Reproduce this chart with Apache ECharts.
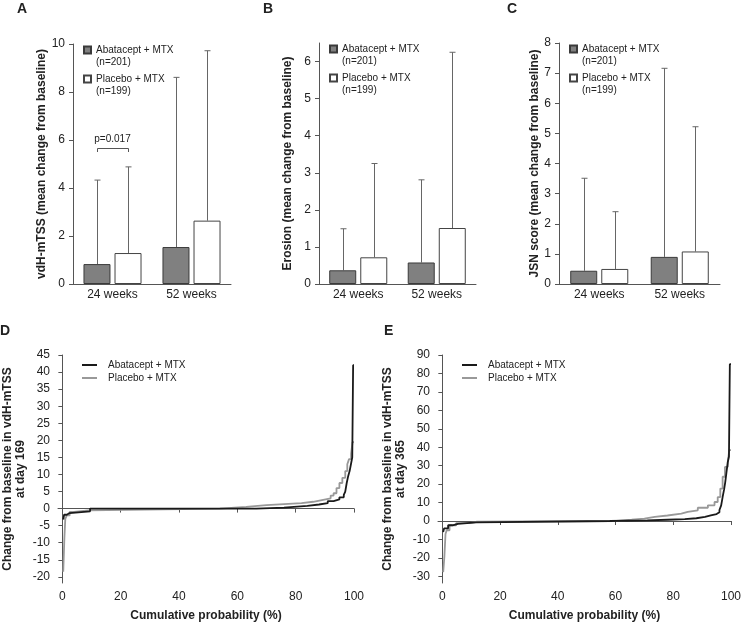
<!DOCTYPE html>
<html>
<head>
<meta charset="utf-8">
<script src="https://cdn.jsdelivr.net/npm/echarts@6/dist/echarts.min.js"></script>
<style>
  html, body { margin: 0; padding: 0; background: #fff; }
  #chart { width: 744px; height: 623px; }
</style>
</head>
<body>
<div id="chart"></div>
<script>
// bar panels (mean change from baseline, upper error)
var weeks = ['24 weeks', '52 weeks']
var mtssAba = [0.83, 1.54]
var mtssAbaErr = [4.33, 8.61]
var mtssPla = [1.29, 2.64]
var mtssPlaErr = [4.88, 9.72]
var erosionAba = [0.37, 0.58]
var erosionAbaErr = [1.49, 2.81]
var erosionPla = [0.72, 1.51]
var erosionPlaErr = [3.25, 6.25]
var jsnAba = [0.44, 0.9]
var jsnAbaErr = [3.51, 7.16]
var jsnPla = [0.5, 1.08]
var jsnPlaErr = [2.4, 5.22]
var erosionTicks = [0, 1, 2, 3, 4, 5, 6]

// cumulative probability plots [percent, change]
var abaDay169 = [[0.3,-3.2],[0.6,-1.8],[1.5,-1.3],[2.5,-0.8],[9.5,0],[66.5,0.3],[76,0.8],[84,1.2],[88,1.6],[91,2.2],[93,2.7],[95,3.3],[96.5,4],[97,5],[97.5,7.5],[98,9.5],[98.5,11],[99,13.2],[99.4,15],[99.7,42],[100,42]]
var plaDay169 = [[0.3,-18.5],[0.7,-8.3],[1,-3],[1.5,-2],[2.5,-1],[4,-0.5],[9,0],[54,0.5],[63,1],[70,1.3],[76,1.6],[82,2],[86,2.5],[89,3],[92,3.8],[93,4.5],[94,6],[95,7.5],[96,9],[97,11],[97.7,13],[98.3,14.5],[99,16],[99.5,19.5],[100,19.5]]
var abaDay365 = [[0.3,-6],[0.6,-4],[2,-2.3],[3.5,-1.5],[5.4,-0.7],[11.7,0],[58,0.3],[71,0.7],[78,1],[84,1.5],[88,2.2],[91,3],[93,3.8],[95,4.8],[96,6],[96.6,8.5],[97.1,13],[97.6,17],[98,21],[98.4,26],[98.9,32],[99.3,35],[99.6,85],[100,85]]
var plaDay365 = [[0.3,-27.7],[0.7,-19.5],[1.1,-7],[1.5,-5],[2.5,-2.3],[4.8,-1.1],[9.4,-0.4],[12,0],[60.4,0.7],[65.6,1.3],[70,2.2],[73.6,3],[78,4],[82.8,4.9],[85,5.8],[88.5,7.2],[92,8.5],[94.3,10.3],[95.4,13],[96.3,17.6],[97.1,24],[97.9,29.3],[98.9,32],[99.4,38.4],[100,38.4]]
var probTicks = [0, 20, 40, 60, 80, 100]
var day169Ticks = [-20,-15,-10,-5,0,5,10,15,20,25,30,35,40,45]
var day365Ticks = [-30,-20,-10,0,10,20,30,40,50,60,70,80,90]

var FONT = "'Liberation Sans', Arial, sans-serif"
var AXIS = '#555'
var TEXT = '#222'
var barW = 27
var half = 15.5 // half distance between bar centres in a group

var lineNames = { abaLine: 'Abatacept + MTX', plaLine: 'Placebo + MTX' }
var nLabel = { 'Abatacept + MTX': '(n=201)', 'Placebo + MTX': '(n=199)' }

function errData(means, uppers) {
  return means.map(function (m, i) { return [i, m, uppers[i]] })
}

function errorBars(offset) {
  return function (params, api) {
    var base = api.coord([api.value(0), api.value(1)])
    var top = api.coord([api.value(0), api.value(2)])
    var x = Math.round(base[0] + offset) + 0.5
    var st = { stroke: '#666', lineWidth: 1 }
    return {
      type: 'group',
      children: [
        { type: 'line', shape: { x1: x, y1: base[1], x2: x, y2: top[1] }, style: st },
        { type: 'line', shape: { x1: x - 3, y1: top[1], x2: x + 3, y2: top[1] }, style: st }
      ]
    }
  }
}

function barPanel(i, left, top, width, height, yMax, interval, name, nameGap, aba, abaErr, pla, plaErr, ticks) {
  var x = {
    type: 'category', gridIndex: i, data: weeks,
    axisLine: { lineStyle: { color: AXIS } },
    axisTick: { show: false },
    axisLabel: { color: TEXT, fontSize: 12, fontFamily: FONT, margin: 5 }
  }
  var y = {
    type: 'value', gridIndex: i, min: 0, max: yMax,
    name: name, nameLocation: 'middle', nameGap: nameGap,
    nameTextStyle: { fontWeight: 'bold', fontSize: 12, color: TEXT, fontFamily: FONT },
    axisLine: { show: true, lineStyle: { color: AXIS } },
    axisTick: { show: true, length: 4, lineStyle: { color: AXIS } },
    axisLabel: { color: TEXT, fontSize: 12, fontFamily: FONT, margin: 8 },
    splitLine: { show: false }
  }
  if (ticks) {
    y.axisLabel.customValues = ticks
    y.axisTick.customValues = ticks
  } else {
    y.interval = interval
  }
  var series = [
    {
      name: 'Abatacept + MTX', type: 'bar', xAxisIndex: i, yAxisIndex: i,
      data: aba, barWidth: barW, barGap: '15%',
      itemStyle: { color: '#808080', borderColor: '#3a3a3a', borderWidth: 1 }
    },
    {
      name: 'Placebo + MTX', type: 'bar', xAxisIndex: i, yAxisIndex: i,
      data: pla, barWidth: barW,
      itemStyle: { color: '#fff', borderColor: '#444', borderWidth: 1 }
    },
    {
      type: 'custom', xAxisIndex: i, yAxisIndex: i, silent: true,
      renderItem: errorBars(-half), data: errData(aba, abaErr), z: 1
    },
    {
      type: 'custom', xAxisIndex: i, yAxisIndex: i, silent: true,
      renderItem: errorBars(half), data: errData(pla, plaErr), z: 1
    }
  ]
  var legend = {
    orient: 'vertical', left: left + 10, top: top - 12, padding: 0,
    itemWidth: 7, itemHeight: 7, itemGap: -7, icon: 'rect',
    data: ['Abatacept + MTX', 'Placebo + MTX'],
    formatter: function (n) { return '\n' + n + '\n' + nLabel[n] },
    textStyle: { fontSize: 10, lineHeight: 12, color: TEXT, fontFamily: FONT }
  }
  return {
    grid: { left: left, top: top, width: width, height: height },
    x: x, y: y, series: series, legend: legend
  }
}

function cdfPanel(i, left, top, yMin, yMax, ticks, name, abaData, plaData) {
  var x = {
    type: 'value', gridIndex: i, min: -1.5, max: 100,
    name: 'Cumulative probability (%)', nameLocation: 'middle', nameGap: 27,
    nameTextStyle: { fontWeight: 'bold', fontSize: 12, color: TEXT, fontFamily: FONT },
    axisLine: { lineStyle: { color: AXIS } },
    axisTick: { length: 4, lineStyle: { color: AXIS }, customValues: probTicks },
    axisLabel: { color: TEXT, fontSize: 12, fontFamily: FONT, margin: 8, customValues: probTicks },
    splitLine: { show: false }
  }
  var y = {
    type: 'value', gridIndex: i, min: yMin, max: yMax,
    name: name, nameLocation: 'middle', nameGap: 31,
    nameTextStyle: { fontWeight: 'bold', fontSize: 12, lineHeight: 13, color: TEXT, fontFamily: FONT },
    axisLine: { show: true, lineStyle: { color: AXIS } },
    axisTick: { show: true, length: 4, lineStyle: { color: AXIS }, customValues: ticks },
    axisLabel: { color: TEXT, fontSize: 12, fontFamily: FONT, margin: 8, customValues: ticks },
    splitLine: { show: false }
  }
  var series = [
    {
      name: 'plaLine', type: 'line', xAxisIndex: i, yAxisIndex: i, step: 'end',
      data: plaData, symbol: 'none', lineStyle: { color: '#999', width: 1.8 },
      itemStyle: { color: '#999' }
    },
    {
      name: 'abaLine', type: 'line', xAxisIndex: i, yAxisIndex: i, step: 'end',
      data: abaData, symbol: 'none', lineStyle: { color: '#1a1a1a', width: 1.8 },
      itemStyle: { color: '#1a1a1a' }
    }
  ]
  var legend = {
    orient: 'vertical', left: left + 24, top: top + 5, padding: 0,
    itemWidth: 15, itemHeight: 2, itemGap: 3, icon: 'rect',
    data: ['abaLine', 'plaLine'],
    formatter: function (n) { return lineNames[n] },
    textStyle: { fontSize: 10, color: TEXT, fontFamily: FONT, padding: [0, 0, 0, 6] }
  }
  return {
    grid: { left: left, top: top, width: 296, height: 228 },
    x: x, y: y, series: series, legend: legend
  }
}

var panels = [
  barPanel(0, 73, 44, 158, 240, 10, 2, 'vdH-mTSS (mean change from baseline)', 20,
    mtssAba, mtssAbaErr, mtssPla, mtssPlaErr),
  barPanel(1, 319, 43, 157, 241, 6.5, null, 'Erosion (mean change from baseline)', 25,
    erosionAba, erosionAbaErr, erosionPla, erosionPlaErr, erosionTicks),
  barPanel(2, 559, 43, 161, 241, 8, 1, 'JSN score (mean change from baseline)', 16,
    jsnAba, jsnAbaErr, jsnPla, jsnPlaErr),
  cdfPanel(3, 58, 355, -21.8, 45, day169Ticks, 'Change from baseline in vdH-mTSS\nat day 169', abaDay169, plaDay169),
  cdfPanel(4, 438, 355, -33.6, 90, day365Ticks, 'Change from baseline in vdH-mTSS\nat day 365', abaDay365, plaDay365)
]

// p value bracket between the 24 week bars of panel A
var pBracket = {
  type: 'custom', xAxisIndex: 0, yAxisIndex: 0, silent: true,
  data: [[0, 5.5, 5.67, 6.05]],
  renderItem: function (params, api) {
    var a = api.coord([api.value(0), api.value(1)])
    var b = api.coord([api.value(0), api.value(2)])
    var t = api.coord([api.value(0), api.value(3)])
    var x1 = Math.round(a[0] - half) + 0.5
    var x2 = Math.round(a[0] + half) + 0.5
    var yb = Math.round(b[1]) + 0.5
    return {
      type: 'group',
      children: [
        {
          type: 'polyline',
          shape: { points: [[x1, a[1]], [x1, yb], [x2, yb], [x2, a[1]]] },
          style: { stroke: '#555', lineWidth: 1, fill: null }
        },
        {
          type: 'text',
          style: {
            x: a[0], y: t[1], text: 'p=0.017', align: 'center', verticalAlign: 'middle',
            fontSize: 10, fontFamily: FONT, fill: TEXT
          }
        }
      ]
    }
  }
}

var letters = [['A', 17, 2], ['B', 263, 2], ['C', 507, 2], ['D', 0, 324], ['E', 384, 324]]

var chart = echarts.init(document.getElementById('chart'))
chart.setOption({
  animation: false,
  backgroundColor: '#fff',
  title: letters.map(function (l) {
    return { text: l[0], left: l[1], top: l[2], padding: 0,
      textStyle: { fontSize: 14, fontWeight: 'bold', color: TEXT, fontFamily: FONT } }
  }),
  grid: panels.map(function (p) { return p.grid }),
  xAxis: panels.map(function (p) { return p.x }),
  yAxis: panels.map(function (p) { return p.y }),
  legend: panels.map(function (p) { return p.legend }),
  series: panels.reduce(function (all, p) { return all.concat(p.series) }, []).concat([pBracket])
})
</script>
</body>
</html>
